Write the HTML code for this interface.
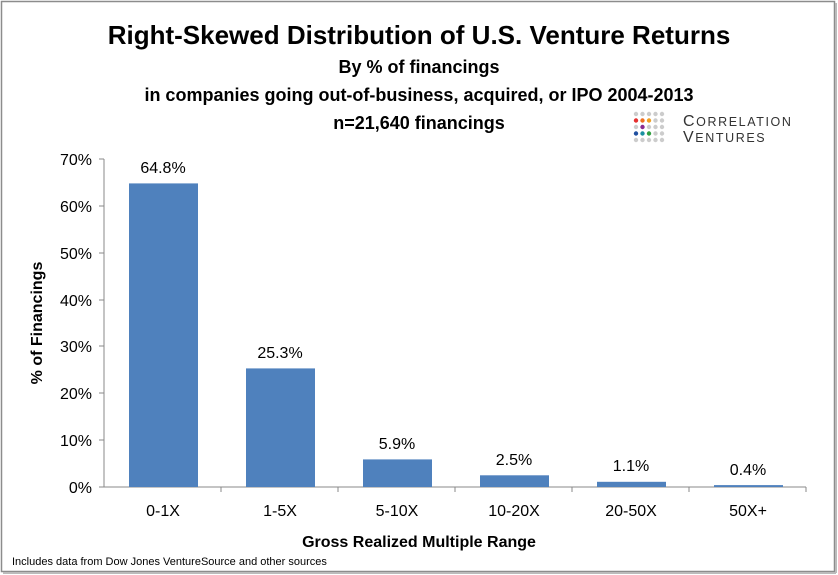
<!DOCTYPE html>
<html><head><style>
body{margin:0;background:#fff;}
svg{display:block;}
text{font-family:"Liberation Sans",sans-serif;}
</style></head><body>
<svg width="838" height="575" viewBox="0 0 838 575" xmlns="http://www.w3.org/2000/svg">
<rect x="0" y="0" width="838" height="575" fill="#fff"/>
<rect x="1.5" y="1.5" width="833" height="570" fill="none" stroke="#8c8c8c" stroke-width="1.5"/>
<line x1="836" y1="3" x2="836" y2="573" stroke="#bbb" stroke-width="2"/>
<line x1="3" y1="573" x2="836" y2="573" stroke="#bbb" stroke-width="2"/>
<text x="419" y="44" text-anchor="middle" font-size="26" font-weight="bold" fill="#000">Right-Skewed Distribution of U.S. Venture Returns</text>
<text x="419" y="73" text-anchor="middle" font-size="18" font-weight="bold">By % of financings</text>
<text x="419" y="101" text-anchor="middle" font-size="18" font-weight="bold">in companies going out-of-business, acquired, or IPO 2004-2013</text>
<text x="419" y="129" text-anchor="middle" font-size="18" font-weight="bold">n=21,640 financings</text>
<g>
<g fill="#ccc">
<circle cx="636" cy="114" r="2.2"/><circle cx="642.5" cy="114" r="2.2"/><circle cx="649" cy="114" r="2.2"/><circle cx="655.5" cy="114" r="2.2"/><circle cx="662" cy="114" r="2.2"/>
<circle cx="662" cy="120.5" r="2.2"/><circle cx="636" cy="127" r="2.2"/><circle cx="649" cy="127" r="2.2"/><circle cx="655.5" cy="127" r="2.2"/><circle cx="662" cy="127" r="2.2"/>
<circle cx="662" cy="133.5" r="2.2"/><circle cx="636" cy="140" r="2.2"/><circle cx="642.5" cy="140" r="2.2"/><circle cx="649" cy="140" r="2.2"/><circle cx="655.5" cy="140" r="2.2"/><circle cx="662" cy="140" r="2.2"/>
</g>
<circle cx="636" cy="120.5" r="2.2" fill="#e53030"/><circle cx="642.5" cy="120.5" r="2.2" fill="#f07020"/><circle cx="649" cy="120.5" r="2.2" fill="#f0a020"/><circle cx="655.5" cy="120.5" r="2.2" fill="#ccc"/>
<circle cx="642.5" cy="127" r="2.2" fill="#8a2a90"/>
<circle cx="636" cy="133.5" r="2.2" fill="#2050a0"/><circle cx="642.5" cy="133.5" r="2.2" fill="#1a90a0"/><circle cx="649" cy="133.5" r="2.2" fill="#30a040"/><circle cx="655.5" cy="133.5" r="2.2" fill="#ccc"/>
<text x="683" y="126" font-size="16" fill="#333" letter-spacing="1.6">C<tspan font-size="12.5">ORRELATION</tspan></text>
<text x="683" y="142" font-size="16" fill="#333" letter-spacing="1.6">V<tspan font-size="12.5">ENTURES</tspan></text>
</g>
<g stroke="#888" stroke-width="1">
<line x1="104" y1="159" x2="104" y2="487"/>
<line x1="104" y1="487" x2="806" y2="487"/>
<line x1="99" y1="159" x2="104" y2="159"/><line x1="99" y1="206" x2="104" y2="206"/><line x1="99" y1="253" x2="104" y2="253"/><line x1="99" y1="300" x2="104" y2="300"/><line x1="99" y1="346" x2="104" y2="346"/><line x1="99" y1="393" x2="104" y2="393"/><line x1="99" y1="440" x2="104" y2="440"/><line x1="99" y1="487" x2="104" y2="487"/>
<line x1="221" y1="487" x2="221" y2="492"/><line x1="338" y1="487" x2="338" y2="492"/><line x1="455" y1="487" x2="455" y2="492"/><line x1="572" y1="487" x2="572" y2="492"/><line x1="689" y1="487" x2="689" y2="492"/><line x1="806" y1="487" x2="806" y2="492"/>
</g>
<g font-size="16" text-anchor="end" fill="#000">
<text x="92" y="165">70%</text><text x="92" y="212">60%</text><text x="92" y="259">50%</text><text x="92" y="306">40%</text><text x="92" y="352">30%</text><text x="92" y="399">20%</text><text x="92" y="446">10%</text><text x="92" y="493">0%</text>
</g>
<text transform="translate(42,323) rotate(-90)" text-anchor="middle" font-size="16" font-weight="bold">% of Financings</text>
<g fill="#4f81bd">
<rect x="129" y="183.4" width="69" height="303.6"/>
<rect x="246" y="368.4" width="69" height="118.6"/>
<rect x="363" y="459.4" width="69" height="27.6"/>
<rect x="480" y="475.3" width="69" height="11.7"/>
<rect x="597" y="481.8" width="69" height="5.2"/>
<rect x="714" y="485.1" width="69" height="1.9"/>
</g>
<g font-size="16" text-anchor="middle">
<text x="163" y="173">64.8%</text><text x="280" y="358">25.3%</text><text x="397" y="449">5.9%</text><text x="514" y="465">2.5%</text><text x="631" y="471">1.1%</text><text x="748" y="475">0.4%</text>
<text x="163" y="516">0-1X</text><text x="280" y="516">1-5X</text><text x="397" y="516">5-10X</text><text x="514" y="516">10-20X</text><text x="631" y="516">20-50X</text><text x="748" y="516">50X+</text>
</g>
<text x="419" y="547" text-anchor="middle" font-size="16" font-weight="bold">Gross Realized Multiple Range</text>
<text x="12" y="565" font-size="11">Includes data from Dow Jones VentureSource and other sources</text>
</svg>
</body></html>
